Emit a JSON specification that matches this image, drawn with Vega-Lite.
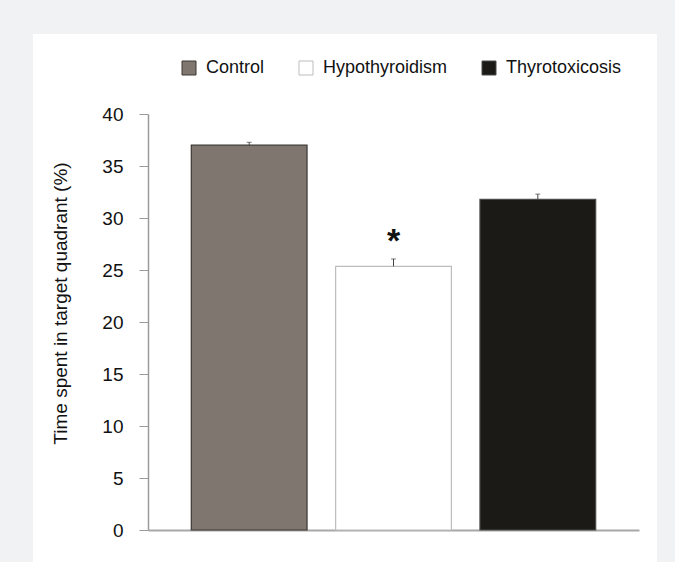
{
  "$schema": "https://vega.github.io/schema/vega-lite/v6.json",
  "width": 624,
  "height": 528,
  "autosize": {"type": "none"},
  "padding": {"left": 33, "top": 34, "right": 18, "bottom": 0},
  "background": "#f1f2f4",
  "config": {
    "view": {"fill": "white", "stroke": null},
    "font": "Liberation Sans"
  },
  "data": {
    "values": [
      {"group": "Control", "mean": 37.0, "upper": 37.28, "sig": ""},
      {"group": "Hypothyroidism", "mean": 25.35, "upper": 26.06, "sig": "*"},
      {"group": "Thyrotoxicosis", "mean": 31.8, "upper": 32.3, "sig": ""}
    ]
  },
  "encoding": {
    "x": {
      "field": "group",
      "type": "nominal",
      "sort": null,
      "scale": {"range": [115, 606], "paddingInner": 0.198, "paddingOuter": 0.3},
      "axis": {
        "title": null,
        "labels": false,
        "ticks": false,
        "domainColor": "#a8a8a8",
        "domainWidth": 2,
        "offset": -32
      }
    }
  },
  "layer": [
    {
      "mark": {"type": "bar", "strokeWidth": 1.2},
      "encoding": {
        "y": {
          "field": "mean",
          "type": "quantitative",
          "scale": {"domain": [0, 40], "range": [496, 80], "nice": false, "zero": true},
          "axis": {
            "title": "Time spent in target quadrant (%)",
            "values": [0, 5, 10, 15, 20, 25, 30, 35, 40],
            "offset": -115,
            "grid": false,
            "tickSize": 9,
            "tickColor": "#9a9a9a",
            "domainColor": "#9a9a9a",
            "domainWidth": 1.5,
            "labelFontSize": 19,
            "labelColor": "#111111",
            "labelPadding": 16,
            "titleFontSize": 19,
            "titleFontWeight": "normal",
            "titleColor": "#111111",
            "titleAngle": -90,
            "titleAlign": "center",
            "titleBaseline": "middle",
            "titleX": -88,
            "titleY": 269
          }
        },
        "fill": {
          "field": "group",
          "type": "nominal",
          "sort": null,
          "scale": {
            "domain": ["Control", "Hypothyroidism", "Thyrotoxicosis"],
            "range": ["#7f776f", "#ffffff", "#1b1a16"]
          },
          "legend": {
            "title": null,
            "orient": "none",
            "direction": "horizontal",
            "legendX": 147,
            "legendY": 25,
            "padding": 0,
            "symbolType": "square",
            "symbolSize": 196,
            "symbolStrokeWidth": 1,
            "labelFontSize": 18,
            "labelColor": "#111111",
            "labelOffset": 8,
            "columnPadding": 32,
            "labelLimit": 300
          }
        },
        "stroke": {
          "field": "group",
          "type": "nominal",
          "sort": null,
          "scale": {
            "domain": ["Control", "Hypothyroidism", "Thyrotoxicosis"],
            "range": ["#3b3835", "#bdbdbd", "#4a4a47"]
          }
        }
      }
    },
    {
      "mark": {"type": "rule", "color": "#444444", "strokeWidth": 1},
      "encoding": {
        "y": {"field": "mean", "type": "quantitative"},
        "y2": {"field": "upper"}
      }
    },
    {
      "mark": {"type": "tick", "color": "#444444", "size": 5, "thickness": 1},
      "encoding": {
        "y": {"field": "upper", "type": "quantitative"}
      }
    },
    {
      "mark": {"type": "text", "font": "Liberation Sans", "fontSize": 34, "fontWeight": "bold", "color": "#111111", "baseline": "alphabetic", "dy": -7},
      "encoding": {
        "y": {"field": "upper", "type": "quantitative"},
        "text": {"field": "sig"}
      }
    }
  ]
}
